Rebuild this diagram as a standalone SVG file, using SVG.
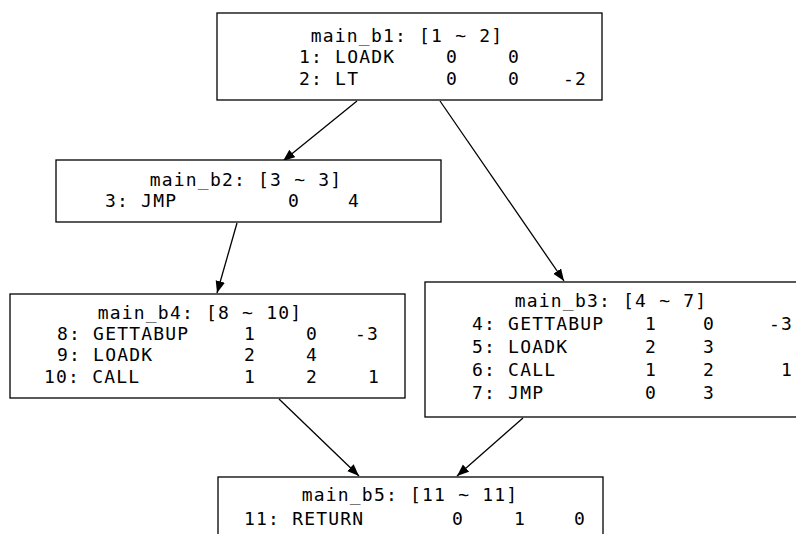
<svg xmlns="http://www.w3.org/2000/svg" width="796" height="534" viewBox="0 0 796 534">
  <defs>
    <style>
      .box { fill: #ffffff; stroke: #000000; stroke-width: 1.3; }
      .edge { fill: none; stroke: #000000; stroke-width: 1.3; }
      text { font-family: "DejaVu Sans Mono", "Liberation Mono", monospace; font-size: 18px; letter-spacing: 1.2px; fill: #000000; }
      .title { text-anchor: middle; }
    </style>
    <marker id="arrow" markerWidth="13" markerHeight="10" refX="12" refY="4.75" orient="auto" markerUnits="userSpaceOnUse">
      <path d="M0,0 L12,4.75 L0,9.5 z" fill="#000000"/>
    </marker>
  </defs>
  <rect width="796" height="534" fill="#ffffff"/>

  <!-- control-flow edges -->
  <g id="edges">
    <line class="edge" x1="357" y1="101" x2="283" y2="161" marker-end="url(#arrow)"/>
    <line class="edge" x1="440" y1="101" x2="564" y2="281" marker-end="url(#arrow)"/>
    <line class="edge" x1="237" y1="223" x2="217" y2="293" marker-end="url(#arrow)"/>
    <line class="edge" x1="279" y1="399" x2="359" y2="476" marker-end="url(#arrow)"/>
    <line class="edge" x1="523" y1="418" x2="457" y2="476" marker-end="url(#arrow)"/>
  </g>

  <!-- basic block main_b1 -->
  <g id="main_b1">
    <rect class="box" x="217" y="13" width="385" height="87"/>
    <text class="title" x="407" y="42">main_b1: [1 ~ 2]</text>
    <text y="63"><tspan x="299">1: LOADK</tspan><tspan x="446">0</tspan><tspan x="508">0</tspan></text>
    <text y="85"><tspan x="299">2: LT</tspan><tspan x="446">0</tspan><tspan x="508">0</tspan><tspan x="563">-2</tspan></text>
  </g>

  <!-- basic block main_b2 -->
  <g id="main_b2">
    <rect class="box" x="56" y="160" width="385" height="62"/>
    <text class="title" x="246" y="186">main_b2: [3 ~ 3]</text>
    <text y="207"><tspan x="105">3: JMP</tspan><tspan x="288">0</tspan><tspan x="348">4</tspan></text>
  </g>

  <!-- basic block main_b4 -->
  <g id="main_b4">
    <rect class="box" x="10" y="294" width="395" height="104"/>
    <text class="title" x="200" y="319">main_b4: [8 ~ 10]</text>
    <text y="340"><tspan x="57">8: GETTABUP</tspan><tspan x="244">1</tspan><tspan x="306">0</tspan><tspan x="355">-3</tspan></text>
    <text y="361"><tspan x="57">9: LOADK</tspan><tspan x="244">2</tspan><tspan x="306">4</tspan></text>
    <text y="383"><tspan x="44">10: CALL</tspan><tspan x="244">1</tspan><tspan x="306">2</tspan><tspan x="368">1</tspan></text>
  </g>

  <!-- basic block main_b3 -->
  <g id="main_b3">
    <rect class="box" x="425" y="282" width="380" height="135"/>
    <text class="title" x="611" y="307">main_b3: [4 ~ 7]</text>
    <text y="330"><tspan x="472">4: GETTABUP</tspan><tspan x="645">1</tspan><tspan x="703">0</tspan><tspan x="769">-3</tspan></text>
    <text y="353"><tspan x="472">5: LOADK</tspan><tspan x="645">2</tspan><tspan x="703">3</tspan></text>
    <text y="376"><tspan x="472">6: CALL</tspan><tspan x="645">1</tspan><tspan x="703">2</tspan><tspan x="781">1</tspan></text>
    <text y="399"><tspan x="472">7: JMP</tspan><tspan x="645">0</tspan><tspan x="703">3</tspan></text>
  </g>

  <!-- basic block main_b5 -->
  <g id="main_b5">
    <rect class="box" x="218" y="477" width="385" height="70"/>
    <text class="title" x="410" y="501">main_b5: [11 ~ 11]</text>
    <text y="525"><tspan x="244">11: RETURN</tspan><tspan x="452">0</tspan><tspan x="514">1</tspan><tspan x="574">0</tspan></text>
  </g>
</svg>
